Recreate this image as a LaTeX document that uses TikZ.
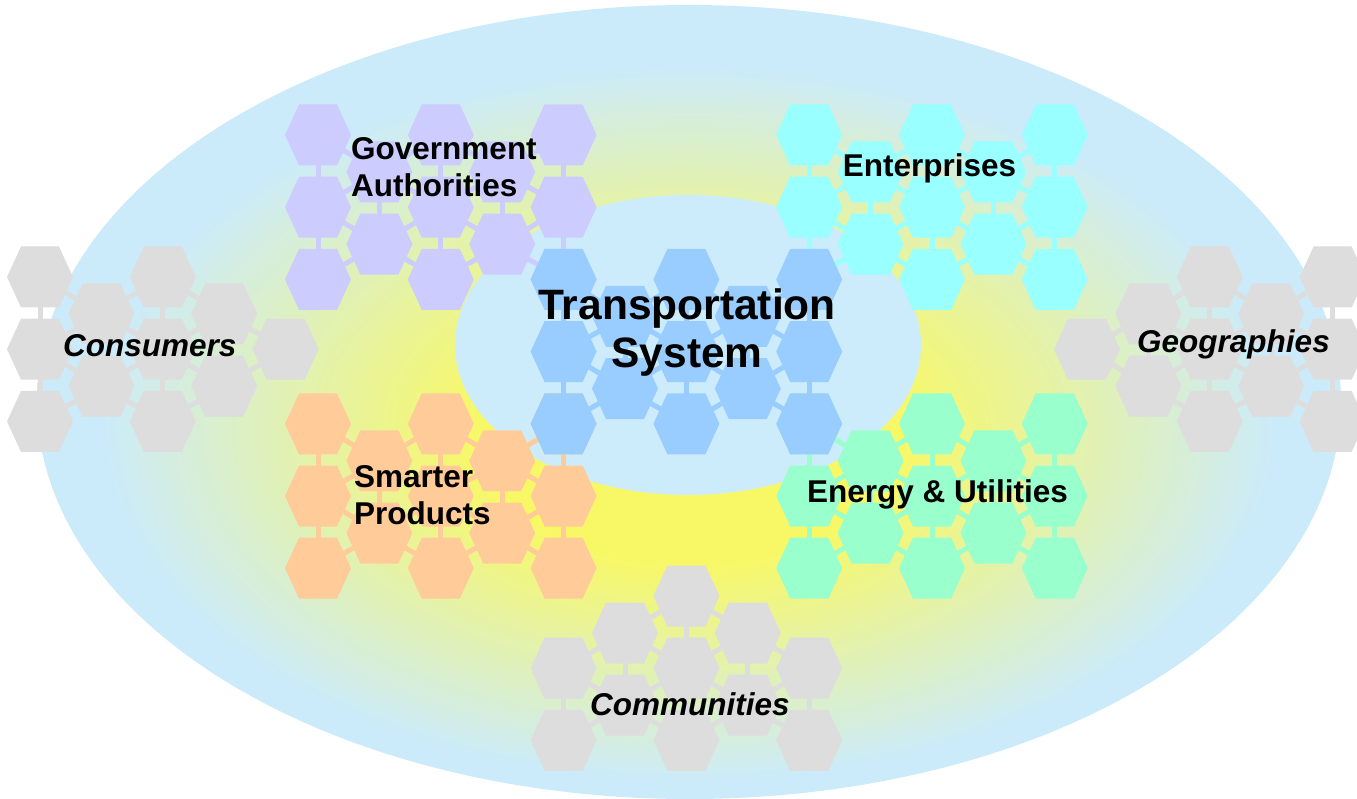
\documentclass[tikz,border=0pt]{standalone}
\usepackage{fontspec}
\setmainfont{Liberation Sans}
\definecolor{lb}{RGB}{204,235,250}
\definecolor{yel}{RGB}{248,248,102}
\definecolor{innerb}{RGB}{204,236,252}
\definecolor{hgrey}{RGB}{221,221,221}
\definecolor{hpurple}{RGB}{204,204,255}
\definecolor{hcyan}{RGB}{153,255,255}
\definecolor{hblue}{RGB}{153,204,255}
\definecolor{horange}{RGB}{255,204,153}
\definecolor{hgreen}{RGB}{153,255,204}
\pgfdeclareradialshading{ellshade}{\pgfpoint{0bp}{-2.5bp}}{color(0bp)=(yel); color(8bp)=(yel); color(22.5bp)=(lb); color(25bp)=(lb); color(50bp)=(lb)}
\tikzset{
  bridge/.style={line width=5pt},
  lab/.style={font=\bfseries\fontsize{31.5}{37}\selectfont, inner sep=0pt},
  ilab/.style={font=\bfseries\itshape\fontsize{31.5}{37}\selectfont, inner sep=0pt},
  title/.style={font=\bfseries\fontsize{42.5}{47}\selectfont, inner sep=0pt}
}
% #1 prefix, #2 colour, #3 x0, #4 y0, #5 list of col/row
\newcommand\hexcluster[5]{%
  \edef\hlist{#5}%
  \foreach \hc/\hr in \hlist{%
    \pgfmathsetmacro\hx{#3+61.4*\hc}%
    \pgfmathsetmacro\hy{#4+72.2*\hr+37*mod(\hc,2)}%
    \coordinate (#1-\hc-\hr) at (\hx,\hy);
  }%
  \foreach \hc in {0,...,4}{%
    \foreach \hr in {0,1,2}{%
      \pgfmathtruncatemacro\hcn{\hc+1}%
      \pgfmathtruncatemacro\hrn{\hr+1}%
      \pgfmathtruncatemacro\hrp{\hr-1}%
      \ifcsname pgf@sh@ns@#1-\hc-\hr\endcsname
        \ifcsname pgf@sh@ns@#1-\hc-\hrn\endcsname
          \draw[bridge,#2] (#1-\hc-\hr) -- (#1-\hc-\hrn);
        \fi
        \ifcsname pgf@sh@ns@#1-\hcn-\hr\endcsname
          \draw[bridge,#2] (#1-\hc-\hr) -- (#1-\hcn-\hr);
        \fi
        \ifodd\hc\relax
          \ifcsname pgf@sh@ns@#1-\hcn-\hrn\endcsname
            \draw[bridge,#2] (#1-\hc-\hr) -- (#1-\hcn-\hrn);
          \fi
        \else
          \ifcsname pgf@sh@ns@#1-\hcn-\hrp\endcsname
            \draw[bridge,#2] (#1-\hc-\hr) -- (#1-\hcn-\hrp);
          \fi
        \fi
      \fi
    }%
  }%
  \foreach \hc/\hr in \hlist{%
    \fill[#2] (#1-\hc-\hr) ++(-33,0) -- ++(14,30.5) -- ++(38,0) -- ++(14,-30.5) -- ++(-14,-30.5) -- ++(-38,0) -- cycle;
  }%
}
\newcommand\fullmotif{0/0,0/1,0/2,1/0,1/1,2/0,2/1,2/2,3/0,3/1,4/0,4/1,4/2}
\begin{document}
\begin{tikzpicture}[x=1pt,y=-1pt]
\useasboundingbox (0,0) rectangle (1357,799);
\clip (0,0) rectangle (1357,799);
\fill[white] (0,0) rectangle (1357,799);
% background ellipses
\shade[shading=ellshade] (689,402) ellipse [x radius=652pt, y radius=397pt];
\fill[innerb] (688,345) ellipse [x radius=233pt, y radius=150pt];
% grey clusters
\hexcluster{con}{hgrey}{40}{277}{0/0,0/1,0/2,1/0,1/1,2/0,2/1,2/2,3/0,3/1,4/1}
\hexcluster{geo}{hgrey}{1087}{277}{0/1,1/0,1/1,2/0,2/1,2/2,3/0,3/1,4/0,4/1,4/2}
\hexcluster{com}{hgrey}{563.6}{596}{0/1,0/2,1/0,1/1,2/0,2/1,2/2,3/0,3/1,4/1,4/2}
% coloured clusters
\hexcluster{gov}{hpurple}{318}{135}{\fullmotif}
\hexcluster{ent}{hcyan}{809.2}{135}{\fullmotif}
\hexcluster{pro}{horange}{318}{423.8}{\fullmotif}
\hexcluster{ene}{hgreen}{809.2}{423.8}{\fullmotif}
\hexcluster{tra}{hblue}{563.6}{279.4}{\fullmotif}
% labels
\node[title, anchor=base] (t1) at (687,320) {Transportation};
\node[title, anchor=base] (t2) at (687,367) {System};
\node[lab, anchor=base west] (g1) at (351,160) {Government};
\node[lab, anchor=base west] (g2) at (351,197) {Authorities};
\node[lab, anchor=base] (en) at (929.5,177) {Enterprises};
\node[lab, anchor=base west] (s1) at (354,487) {Smarter};
\node[lab, anchor=base west] (s2) at (354,524) {Products};
\node[lab, anchor=base west] (eu) at (807,502) {Energy \& Utilities};
\node[ilab, anchor=base west] (cs) at (63,357) {Consumers};
\node[ilab, anchor=base west] (ge) at (1137,353) {Geographies};
\node[ilab, anchor=base west] (cm) at (590,715) {Communities};
\end{tikzpicture}
\end{document}
